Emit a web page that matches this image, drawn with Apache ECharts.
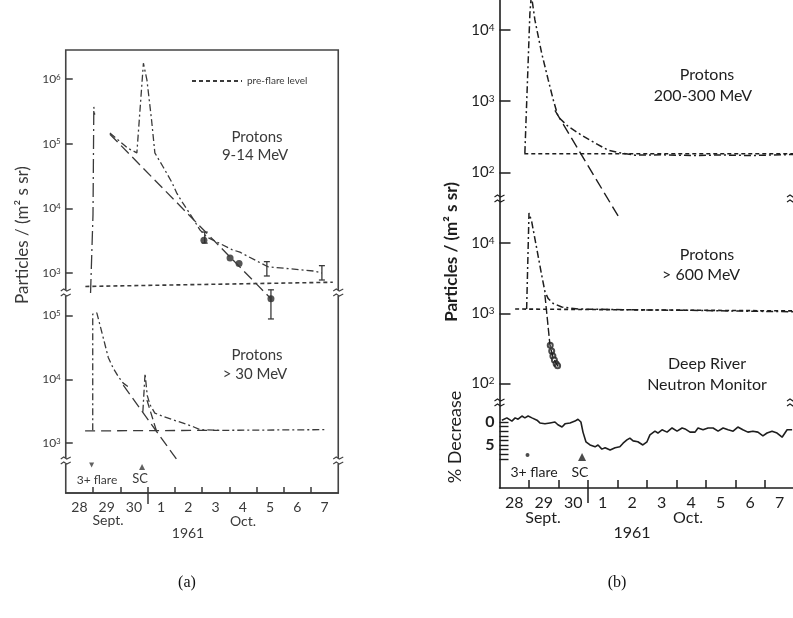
<!DOCTYPE html>
<html>
<head>
<meta charset="utf-8">
<script src="https://cdn.jsdelivr.net/npm/echarts@6/dist/echarts.min.js"></script>
<style>
  html, body { margin: 0; padding: 0; background: #fff; }
  #chart { width: 793px; height: 618px; }
</style>
</head>
<body>
<div id="chart"></div>
<script>
// x = days since 28 Sept 1961 00h, y = particles / (m2 s sr)
const dayLabels = ['28', '29', '30', '1', '2', '3', '4', '5', '6', '7']
const dayTicks = [1, 2, 3, 4, 5, 6, 7, 8, 9]
const dayLabelPos = [0.5, 1.5, 2.5, 3.5, 4.5, 5.5, 6.5, 7.5, 8.5, 9.5]
const eventDays = [0.95, 2.8]   // 3+ flare, SC

// (a) protons 9-14 MeV
const a914Onset = [[0.91, 490], [1.0, 8e3], [1.03, 3.7e5], [1.06, 2.8e5]]
const a914Decay = [[1.62, 1.46e5], [2.28, 8.5e4], [2.61, 7.2e4], [2.85, 1.75e6], [2.98, 9.6e5], [3.15, 2.3e5],
  [3.27, 7.2e4], [3.57, 4.4e4], [3.90, 2.5e4], [4.08, 1.7e4], [4.30, 1.2e4], [4.63, 7.4e3], [4.93, 4.6e3],
  [5.18, 3.6e3], [6.10, 2.3e3], [6.39, 2.1e3], [7.42, 1.25e3], [9.14, 1.07e3], [9.40, 1.0e3]]
const a914Fit = [[1.62, 1.4e5], [7.53, 400]]
const a914Pre = [[0.72, 620], [9.8, 720]]
const a914Dots = [[5.07, 3.2e3], [6.03, 1.7e3], [6.36, 1.4e3], [7.53, 400]]
const a914Err = [[5.10, 2.9e3, 4.3e3], [7.38, 900, 1.5e3], [7.53, 195, 550], [9.40, 780, 1.3e3]]

// (a) protons > 30 MeV
const a30Onset = [[0.99, 1.58e3], [0.99, 1.05e5], [1.14, 1.1e5], [1.19, 9.1e4], [1.38, 4.4e4], [1.56, 2.2e4],
  [1.74, 1.5e4], [1.93, 1.1e4], [2.11, 8.7e3], [2.30, 7.6e3]]
const a30Sc = [[2.83, 3.1e3], [2.91, 1.23e4], [2.99, 5.6e3], [3.09, 4.0e3], [3.27, 2.95e3], [3.58, 2.6e3],
  [3.95, 2.3e3], [4.31, 2.05e3], [4.68, 1.8e3], [4.93, 1.62e3], [5.66, 1.58e3], [9.51, 1.62e3]]
const a30Pre = [[0.71, 1.55e3], [5.6, 1.58e3]]
const a30Fit1 = [[2.11, 8.1e3], [4.13, 510]]
const a30Fit2 = [[2.98, 4.7e3], [3.35, 1.45e3]]

// (b) protons 200-300 MeV
const b200Main = [[0.86, 186], [1.03, 1.7e4], [1.08, 3.1e4], [1.20, 1.38e4], [1.43, 4.7e3], [1.65, 2.0e3],
  [1.82, 1.05e3], [1.99, 600], [2.33, 440], [2.79, 330], [3.24, 257], [3.69, 204], [4.13, 186], [4.59, 174],
  [5.5, 176], [6.5, 172], [7.5, 175], [8.5, 172], [9.95, 178]]
const b200Pre = [[0.84, 182], [9.95, 182]]
const b200Fit = [[1.88, 740], [4.03, 24]]

// (b) protons > 600 MeV
const b600Main = [[0.92, 1150], [1.0, 2.7e4], [1.09, 2.04e4], [1.26, 8.5e3], [1.43, 3.5e3], [1.54, 2.04e3],
  [1.65, 1.62e3], [1.82, 1.38e3], [2.11, 1.23e3], [2.67, 1.15e3], [4.5, 1.12e3], [6.5, 1.1e3], [8.5, 1.07e3], [9.95, 1.05e3]]
const b600Pre = [[0.53, 1150], [9.95, 1080]]
const b600Fall = [[1.54, 1.82e3], [1.71, 355], [1.82, 230], [1.99, 174]]
const b600FallPts = [[1.72, 350], [1.77, 290], [1.81, 245], [1.86, 215], [1.92, 190], [1.97, 178]]

// (b) Deep River neutron monitor, % decrease
const neutron = [[0.08, -0.4], [0.25, -0.9], [0.42, -0.2], [0.53, -0.9], [0.63, -0.6], [0.76, -1.3], [0.86, -0.9],
  [0.97, -1.3], [1.10, -0.9], [1.27, -0.4], [1.37, 0.2], [1.54, 0.4], [1.71, 0.2], [1.88, 0], [1.98, 0.6],
  [2.12, 1.1], [2.22, 0.4], [2.39, 0.2], [2.56, -0.2], [2.66, -0.6], [2.76, 0], [2.83, 2.2], [2.93, 4.3],
  [3.07, 5.0], [3.24, 5.4], [3.34, 5.0], [3.47, 5.9], [3.58, 5.6], [3.75, 6.1], [3.92, 5.6], [4.08, 5.4],
  [4.19, 4.6], [4.32, 3.9], [4.42, 3.5], [4.53, 4.1], [4.69, 4.3], [4.86, 5.0], [5.0, 4.3], [5.10, 2.8],
  [5.27, 2.0], [5.37, 2.4], [5.51, 1.7], [5.68, 2.2], [5.85, 1.3], [6.02, 2.0], [6.19, 1.3], [6.29, 1.5],
  [6.46, 2.2], [6.63, 2.2], [6.73, 1.3], [6.90, 1.7], [7.07, 1.3], [7.24, 1.3], [7.41, 2.0], [7.58, 1.3],
  [7.75, 1.7], [7.92, 2.0], [8.08, 1.1], [8.25, 1.7], [8.42, 2.2], [8.59, 2.0], [8.76, 2.2], [8.93, 3.0],
  [9.07, 2.4], [9.24, 2.0], [9.41, 2.4], [9.58, 3.3], [9.75, 1.7], [9.92, 1.7]]

const FONT = 'Lato, "Noto Sans", sans-serif'
const SERIF = '"Liberation Serif", "DejaVu Serif", serif'
const INK_A = '#3a3a3a'
const INK_B = '#1e1e1e'
const DASHDOT = [7, 3, 2, 3]
const LONGDASH = [11, 5]
const SHORTDASH = [4, 3]

const lg = arr => arr.map(p => [p[0], Math.log10(p[1])])

function line(name, data, xi, yi, dash, color, width) {
  return {
    name: name, type: 'line', xAxisIndex: xi, yAxisIndex: yi, data: data,
    symbol: 'none', silent: true, animation: false,
    lineStyle: { color: color, width: width || 1.3, type: dash }
  }
}

function hiddenX(grid, max) {
  return { gridIndex: grid, type: 'value', min: 0, max: max, show: false }
}

function logY(grid, min, max, ticks, fs, tickLen, color) {
  return {
    gridIndex: grid, type: 'value', min: min, max: max,
    axisLine: { show: false }, splitLine: { show: false },
    axisTick: { show: true, inside: true, length: tickLen, customValues: ticks, lineStyle: { color: color, width: 1.5 } },
    axisLabel: {
      customValues: ticks, margin: 5,
      formatter: v => '{b|10}{s|' + v + '}',
      rich: {
        b: { fontSize: fs, color: color, fontFamily: FONT },
        s: { fontSize: Math.round(fs * 0.65), color: color, fontFamily: FONT, verticalAlign: 'top' }
      }
    }
  }
}

function dayAxis(grid, max, fs, color, tickLen, margin) {
  return {
    gridIndex: grid, type: 'value', min: 0, max: max, position: 'bottom',
    axisLine: { show: true, lineStyle: { color: color, width: 1.6 } },
    splitLine: { show: false },
    axisTick: { show: true, inside: true, length: tickLen, customValues: dayTicks, lineStyle: { color: color, width: 1.5 } },
    axisLabel: {
      customValues: dayLabelPos, margin: margin, color: color, fontSize: fs, fontFamily: FONT,
      formatter: v => dayLabels[Math.floor(v)]
    }
  }
}

function longTick(grid, max, len, color) {
  return {
    gridIndex: grid, type: 'value', min: 0, max: max, position: 'bottom',
    axisLine: { show: false }, splitLine: { show: false }, axisLabel: { show: false },
    axisTick: { show: true, inside: false, length: len, customValues: [3], lineStyle: { color: color, width: 1.5 } }
  }
}

function errBars(data, xi, yi, color) {
  return {
    type: 'custom', xAxisIndex: xi, yAxisIndex: yi, clip: false, silent: true, animation: false,
    data: data.map(e => [e[0], Math.log10(e[1]), Math.log10(e[2])]),
    encode: { x: 0, y: [1, 2] },
    renderItem: (params, api) => {
      const lo = api.coord([api.value(0), api.value(1)])
      const hi = api.coord([api.value(0), api.value(2)])
      const st = { stroke: color, lineWidth: 1.3 }
      return {
        type: 'group', children: [
          { type: 'line', shape: { x1: lo[0], y1: lo[1], x2: hi[0], y2: hi[1] }, style: st },
          { type: 'line', shape: { x1: lo[0] - 3, y1: lo[1], x2: lo[0] + 3, y2: lo[1] }, style: st },
          { type: 'line', shape: { x1: hi[0] - 3, y1: hi[1], x2: hi[0] + 3, y2: hi[1] }, style: st }
        ]
      }
    }
  }
}

function txt(s, x, y, size, color, opts) {
  opts = opts || {}
  return {
    type: 'text', x: x, y: y, z: 50, rotation: opts.rotation || 0,
    style: {
      text: s, fontSize: size, fontFamily: opts.family || FONT, fontWeight: opts.weight || 'normal',
      fill: color, align: 'center', verticalAlign: 'middle', textAlign: 'center', textVerticalAlign: 'middle'
    }
  }
}

function brk(x, y, color) {
  const st = { stroke: color, fill: 'none', lineWidth: 1.1 }
  return {
    type: 'group', x: x, y: y, z: 60, children: [
      { type: 'rect', shape: { x: -6, y: -3, width: 12, height: 6 }, style: { fill: '#fff' } },
      { type: 'polyline', shape: { points: [[-5, -2], [-2, -4], [1, -2], [5, -4]] }, style: st },
      { type: 'polyline', shape: { points: [[-5, 3], [-2, 1], [1, 3], [5, 1]] }, style: st }
    ]
  }
}

const chart = echarts.init(document.getElementById('chart'), null, { renderer: 'canvas' })

const option = {
  backgroundColor: '#fff',
  animation: false,
  grid: [
    { left: 65.75, top: 50, width: 272.5, height: 443, show: true, borderColor: '#444', borderWidth: 1.6, backgroundColor: 'transparent', outerBoundsMode: 'none' },
    { left: 65.75, top: 50, width: 272.5, height: 250, outerBoundsMode: 'none' },
    { left: 65.75, top: 293, width: 272.5, height: 200, outerBoundsMode: 'none' },
    { left: 499.5, top: 0, width: 293.5, height: 488, outerBoundsMode: 'none' },
    { left: 499.5, top: 0, width: 293.5, height: 220, outerBoundsMode: 'none' },
    { left: 499.5, top: 199, width: 293.5, height: 204, outerBoundsMode: 'none' },
    { left: 499.5, top: 403, width: 293.5, height: 85, outerBoundsMode: 'none' }
  ],
  xAxis: [
    dayAxis(0, 10, 14, INK_A, 6, 7),
    longTick(0, 10, 11, INK_A),
    hiddenX(1, 10),
    hiddenX(2, 10),
    dayAxis(3, 9.95, 16, INK_B, 8, 7),
    longTick(3, 9.95, 15, INK_B),
    hiddenX(4, 9.95),
    hiddenX(5, 9.95),
    hiddenX(6, 9.95)
  ],
  yAxis: [
    { gridIndex: 0, type: 'value', min: 0, max: 1, show: false },
    logY(1, 2.583, 6.448, [3, 4, 5, 6], 12, 7, INK_A),
    logY(2, 2.216, 5.353, [3, 4, 5], 12, 7, INK_A),
    {
      gridIndex: 3, type: 'value', min: 0, max: 1,
      axisLine: { show: true, lineStyle: { color: INK_B, width: 1.6 } },
      axisTick: { show: false }, axisLabel: { show: false }, splitLine: { show: false }
    },
    logY(4, 1.33, 4.42, [2, 3, 4], 15, 11, INK_B),
    logY(5, 1.72, 4.63, [2, 3, 4], 15, 11, INK_B),
    {
      gridIndex: 6, type: 'value', min: -4.13, max: 14.35, inverse: true,
      axisLine: { show: false }, splitLine: { show: false },
      axisTick: { show: true, inside: true, length: 9, customValues: [0, 1, 2, 3, 4, 5, 6, 7, 8], lineStyle: { color: INK_B, width: 1.4 } },
      axisLabel: { customValues: [0, 5], margin: 5, color: INK_B, fontSize: 16, fontFamily: FONT, fontWeight: 'bold' }
    }
  ],
  legend: {
    data: ['pre-flare level'], left: 186, top: 71, itemWidth: 50, itemHeight: 10, itemGap: 6,
    selectedMode: false,
    itemStyle: { opacity: 0 },
    textStyle: { fontSize: 10, fontFamily: FONT, color: INK_A }
  },
  series: [
    // (a) upper
    line('pre-flare level', lg(a914Pre), 2, 1, SHORTDASH, INK_A, 1.6),
    line('a914 onset', lg(a914Onset), 2, 1, [14, 4, 2, 4], INK_A, 1.3),
    line('a914 decay', lg(a914Decay), 2, 1, DASHDOT, INK_A, 1.3),
    line('a914 fit', lg(a914Fit), 2, 1, LONGDASH, INK_A, 1.3),
    {
      type: 'scatter', xAxisIndex: 2, yAxisIndex: 1, data: lg(a914Dots), clip: false, silent: true,
      symbol: 'circle', symbolSize: 7, itemStyle: { color: '#2a2a2a' }
    },
    errBars(a914Err, 2, 1, INK_A),
    // (a) lower
    line('a30 pre', lg(a30Pre), 3, 2, [10, 6], INK_A, 1.3),
    line('a30 onset', lg(a30Onset), 3, 2, DASHDOT, INK_A, 1.3),
    line('a30 sc', lg(a30Sc), 3, 2, DASHDOT, INK_A, 1.3),
    line('a30 fit1', lg(a30Fit1), 3, 2, LONGDASH, INK_A, 1.3),
    line('a30 fit2', lg(a30Fit2), 3, 2, [8, 4], INK_A, 1.3),
    {
      type: 'scatter', xAxisIndex: 3, yAxisIndex: 2, clip: false, silent: true,
      data: [[eventDays[0], Math.log10(452)]], symbol: 'triangle', symbolRotate: 180, symbolSize: 5,
      itemStyle: { color: INK_A }
    },
    {
      type: 'scatter', xAxisIndex: 3, yAxisIndex: 2, clip: false, silent: true,
      data: [[eventDays[1], Math.log10(421)]], symbol: 'triangle', symbolSize: 6,
      itemStyle: { color: INK_A }
    },
    // (b) 200-300 MeV
    line('b200 pre', lg(b200Pre), 6, 4, SHORTDASH, INK_B, 1.6),
    line('b200 main', lg(b200Main), 6, 4, DASHDOT, INK_B, 1.5),
    line('b200 fit', lg(b200Fit), 6, 4, LONGDASH, INK_B, 1.4),
    // (b) > 600 MeV
    line('b600 pre', lg(b600Pre), 7, 5, SHORTDASH, INK_B, 1.6),
    line('b600 main', lg(b600Main), 7, 5, DASHDOT, INK_B, 1.5),
    line('b600 fall', lg(b600Fall), 7, 5, [8, 3], INK_B, 1.4),
    {
      type: 'scatter', xAxisIndex: 7, yAxisIndex: 5, data: lg(b600FallPts), silent: true,
      symbol: 'emptyCircle', symbolSize: 5, itemStyle: { color: INK_B, borderWidth: 1.3 }
    },
    // (b) neutron monitor
    line('neutron', neutron, 8, 6, 'solid', INK_B, 1.6),
    {
      type: 'scatter', xAxisIndex: 8, yAxisIndex: 6, clip: false, silent: true,
      data: [[eventDays[0], 7.2]], symbol: 'circle', symbolSize: 4, itemStyle: { color: INK_B }
    },
    {
      type: 'scatter', xAxisIndex: 8, yAxisIndex: 6, clip: false, silent: true,
      data: [[eventDays[1], 7.6]], symbol: 'triangle', symbolSize: 8, itemStyle: { color: INK_B }
    }
  ],
  graphic: [
    // panel (a) texts
    txt('Particles / (m\u00b2 s sr)', 23, 235, 17, INK_A, { rotation: Math.PI / 2 }),
    txt('Protons', 257, 137, 15, INK_A),
    txt('9-14 MeV', 255, 155, 15, INK_A),
    txt('Protons', 257, 355, 15, INK_A),
    txt('> 30 MeV', 255, 374, 15, INK_A),
    txt('3+ flare', 97, 480, 12, INK_A),
    txt('SC', 140, 479, 13, INK_A),
    txt('Sept.', 108, 520, 14, INK_A),
    txt('Oct.', 243, 521, 14, INK_A),
    txt('1961', 188, 533, 14, INK_A),
    brk(65.75, 293, '#444'), brk(65.75, 461, '#444'),
    brk(338.25, 293, '#444'), brk(338.25, 461, '#444'),
    // panel (b) texts
    txt('Particles / (m\u00b2 s sr)', 452, 252, 17, INK_B, { rotation: Math.PI / 2, weight: 'bold' }),
    txt('% Decrease', 455, 437, 18, INK_B, { rotation: Math.PI / 2 }),
    txt('Protons', 707, 75, 16, INK_B),
    txt('200-300 MeV', 703, 96, 16, INK_B),
    txt('Protons', 707, 255, 16, INK_B),
    txt('> 600 MeV', 701, 275, 16, INK_B),
    txt('Deep River', 707, 364, 16, INK_B),
    txt('Neutron Monitor', 707, 385, 16, INK_B),
    txt('3+ flare', 534, 472, 14, INK_B),
    txt('SC', 580, 472, 14, INK_B),
    txt('Sept.', 543, 518, 16, INK_B),
    txt('Oct.', 688, 518, 16, INK_B),
    txt('1961', 632, 533, 16, INK_B),
    brk(499.5, 199, INK_B), brk(499.5, 403, INK_B),
    brk(792, 199, INK_B), brk(792, 403, INK_B),
    // captions
    txt('(a)', 187, 583, 16, '#111', { family: SERIF }),
    txt('(b)', 617, 583, 16, '#111', { family: SERIF })
  ]
}

chart.setOption(option)
</script>
</body>
</html>
